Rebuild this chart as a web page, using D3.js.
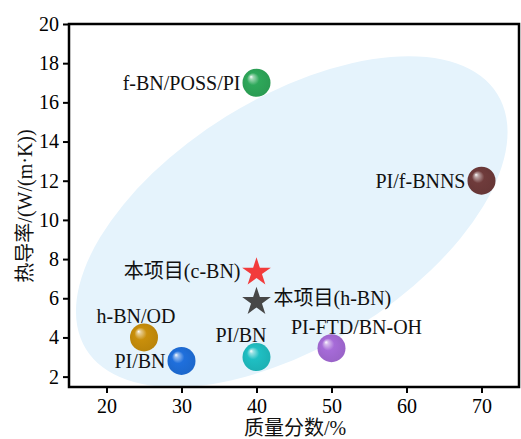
<!DOCTYPE html>
<html><head><meta charset="utf-8">
<script src="https://cdn.jsdelivr.net/npm/d3@7"></script>
<style>body{margin:0;background:#fff}text{font-family:"Liberation Serif","Noto Sans CJK SC",serif}</style>
</head><body><svg id="c" width="521" height="439"></svg>
<script>
const names = ["f-BN/POSS/PI","PI/f-BNNS","本项目(c-BN)","本项目(h-BN)","h-BN/OD","PI/BN","PI/BN","PI-FTD/BN-OH"];
const xValues = [40,70,40,40,25,30,40,50];
const yValues = [17,12,7.4,5.9,4,2.8,3,3.45];
const shapes = ["ball","ball","star","star","ball","ball","ball","ball"];
const colors = ["#2ea85a","#6f3b3b","#f23b3b","#474747","#c98f0b","#1f6fdc","#1fbfc3","#a66bd8"];
const labelPos = ["left","left","left","right","top","left","topleft","top"];
const xTicks = [20,30,40,50,60,70];
const yTicks = [2,4,6,8,10,12,14,16,18,20];
const xTitle = "质量分数/%";
const yTitle = "热导率/(W/(m·K))";
// shaded background region centre (data units)
const regionCenter = [44.7, 9.91];

const svg = d3.select("#c");
const m = {l:69,r:519,t:24,b:387};
const x = d3.scaleLinear().domain([15,75]).range([m.l,m.r]);
const y = d3.scaleLinear().domain([1.47,20]).range([m.b,m.t]);

// background ellipse
const ecx = x(regionCenter[0]), ecy = y(regionCenter[1]);
svg.append("ellipse")
  .attr("cx", ecx).attr("cy", ecy)
  .attr("rx", 242).attr("ry", 124)
  .attr("transform", `rotate(-31.8 ${ecx} ${ecy})`)
  .attr("fill", "#e5f3fc");

// gradients
const defs = svg.append("defs");
colors.forEach((c,i)=>{
  const g = defs.append("radialGradient").attr("id","g"+i)
    .attr("cx","50%").attr("cy","50%").attr("r","55%").attr("fx","30%").attr("fy","28%");
  g.append("stop").attr("offset","0%").attr("stop-color","#ffffff");
  g.append("stop").attr("offset","12%").attr("stop-color",d3.interpolateRgb("#fff",c)(0.45));
  g.append("stop").attr("offset","40%").attr("stop-color",c);
  g.append("stop").attr("offset","100%").attr("stop-color",d3.color(c).darker(0.25));
});

// axes
const fs = 20;
const xa = svg.append("g").attr("transform",`translate(0,${m.b})`)
  .call(d3.axisBottom(x).tickValues(xTicks).tickSize(6).tickSizeOuter(0).tickPadding(6));
const ya = svg.append("g").attr("transform",`translate(${m.l},0)`)
  .call(d3.axisLeft(y).tickValues(yTicks).tickSize(6).tickSizeOuter(0).tickPadding(4));
[xa,ya].forEach(a=>{
  a.select(".domain").remove();
  a.selectAll(".tick line").attr("stroke","#000").attr("stroke-width",2);
  a.selectAll(".tick text").attr("font-size",fs).attr("fill","#000")
   .style("font-family","'Liberation Serif',serif");
});
// frame
svg.append("rect").attr("x",m.l).attr("y",m.t).attr("width",m.r-m.l).attr("height",m.b-m.t)
  .attr("fill","none").attr("stroke","#000").attr("stroke-width",2.5);

// points
const pts = svg.append("g");
names.forEach((n,i)=>{
  const cx = x(xValues[i]), cy = y(yValues[i]);
  if (shapes[i]==="ball") {
    pts.append("circle").attr("cx",cx).attr("cy",cy).attr("r",14).attr("fill",`url(#g${i})`);
  } else {
    pts.append("path").attr("d", d3.symbol(d3.symbolStar, 255)())
      .attr("transform",`translate(${cx},${cy+1.5})`).attr("fill",colors[i]);
  }
  const t = pts.append("text").text(n).attr("font-size",fs).attr("fill","#111");
  const p = labelPos[i];
  if (p==="left") t.attr("x",cx-16).attr("y",cy+7).attr("text-anchor","end");
  else if (p==="right") t.attr("x",cx+17).attr("y",cy+5).attr("text-anchor","start");
  else if (p==="top") t.attr("x",cx-(i===4?8:-25)).attr("y",cy-14).attr("text-anchor","middle");
  else if (p==="topleft") t.attr("x",cx+10).attr("y",cy-15).attr("text-anchor","end");
});

// titles
svg.append("text").text(xTitle).attr("x",295).attr("y",435).attr("text-anchor","middle")
  .attr("font-size",fs).attr("fill","#111");
svg.append("text").text(yTitle).attr("transform","translate(32,206) rotate(-90)")
  .attr("text-anchor","middle").attr("font-size",fs).attr("fill","#111");
</script></body></html>
